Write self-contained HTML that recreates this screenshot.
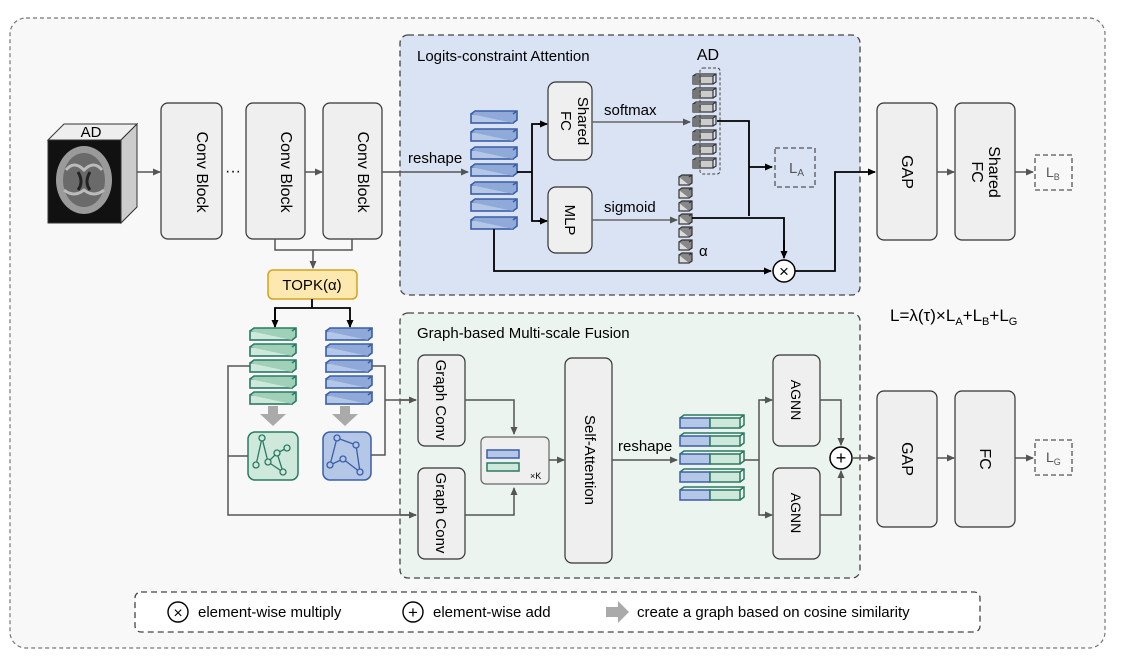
<!DOCTYPE html>
<html><head><meta charset="utf-8"><style>
body{margin:0;background:#fff}
svg{display:block;font-family:"Liberation Sans",sans-serif}
</style></head><body>
<svg width="1122" height="663" viewBox="0 0 1122 663" xmlns="http://www.w3.org/2000/svg">
<defs>
<marker id="a" markerWidth="8" markerHeight="8" refX="7" refY="4" orient="auto" markerUnits="userSpaceOnUse"><path d="M0,0.5 L8,4 L0,7.5z" fill="#555"/></marker>
<marker id="k" markerWidth="8" markerHeight="8" refX="7" refY="4" orient="auto" markerUnits="userSpaceOnUse"><path d="M0,0.5 L8,4 L0,7.5z" fill="#000"/></marker>
<g id="bb"><rect x="0" y="3" width="42" height="9" fill="#b4c7e7" stroke="#3a5ea8" stroke-width="1.6"/><path d="M0,3 L4,0 L46,0 L46,9 L42,12 M42,3 L46,0" fill="#8fa9d8" stroke="#3a5ea8" stroke-width="1.6"/></g>
<g id="gb"><rect x="0" y="3" width="42" height="9" fill="#cfe8dc" stroke="#2a7a62" stroke-width="1.6"/><path d="M0,3 L4,0 L46,0 L46,9 L42,12 M42,3 L46,0" fill="#9fd0b8" stroke="#2a7a62" stroke-width="1.6"/></g>
<g id="cb"><rect x="0" y="2" width="10" height="8" fill="#ddd" stroke="#333" stroke-width="1.2"/><path d="M0,2 L3,0 L13,0 L13,8 L10,10 M10,2 L13,0" fill="#888" stroke="#333" stroke-width="1.2"/></g>
<g id="cc"><rect x="0" y="2" width="20" height="8" fill="#ccc" stroke="#333" stroke-width="1.2"/><path d="M0,2 L3,0 L23,0 L23,8 L20,10 M20,2 L23,0" fill="none" stroke="#333" stroke-width="1.2"/><rect x="0" y="2" width="8" height="8" fill="#777"/></g>
<g id="cat"><rect x="0" y="3" width="30" height="10" fill="#b4c7e7" stroke="#3a5ea8" stroke-width="1.5"/><rect x="30" y="3" width="30" height="10" fill="#cfe8dc" stroke="#2a7a62" stroke-width="1.5"/><path d="M0,3 L4,0 L64,0 L64,10 L60,13 M60,3 L64,0" fill="none" stroke="#2a7a62" stroke-width="1.5"/></g>
</defs>
<rect x="10" y="18" width="1095" height="630" rx="16" fill="#f8f8f8" stroke="#777" stroke-dasharray="4,3" stroke-width="1.2"/>
<!-- brain cube -->
<path d="M48,140 L64,124 L137,124 L121,140z" fill="#eee" stroke="#333"/>
<path d="M121,140 L137,124 L137,207 L121,223z" fill="#ccc" stroke="#333"/>
<rect x="48" y="140" width="73" height="83" fill="#111" stroke="#333"/>
<ellipse cx="84" cy="180" rx="28" ry="34" fill="#9a9a9a"/>
<ellipse cx="84" cy="180" rx="21" ry="27" fill="#6a6a6a"/>
<path d="M66,170 q8,-10 18,0 q10,-10 18,0 M64,190 q10,8 20,0 q10,8 20,0" stroke="#bbb" stroke-width="3" fill="none"/>
<path d="M78,172 q6,10 0,18 M90,172 q-6,10 0,18" stroke="#222" stroke-width="3" fill="none"/>
<text x="91" y="137" font-size="15" text-anchor="middle">AD</text>
<line x1="137" y1="172" x2="160" y2="172" stroke="#555" stroke-width="1.5" marker-end="url(#a)"/>
<g fill="#efefef" stroke="#333" stroke-width="1.2">
<rect x="161" y="103" width="61" height="136" rx="7"/>
<rect x="246" y="103" width="59" height="136" rx="7"/>
<rect x="323" y="103" width="59" height="136" rx="7"/>
</g>
<g font-size="16" text-anchor="middle">
<text transform="translate(197,172) rotate(90)">Conv Block</text>
<text transform="translate(281,172) rotate(90)">Conv Block</text>
<text transform="translate(358,172) rotate(90)">Conv Block</text>
</g>
<text x="233" y="176" font-size="16" text-anchor="middle">···</text>
<line x1="305" y1="172" x2="322" y2="172" stroke="#555" stroke-width="1.5" marker-end="url(#a)"/>
<path d="M275,239 V250 H352 V239 M313,250 V268" fill="none" stroke="#555" stroke-width="1.5" marker-end="url(#a)"/>
<rect x="268" y="270" width="89" height="29" rx="5" fill="#fde9b0" stroke="#d4a21c" stroke-width="1.5"/>
<text x="312" y="290" font-size="15" text-anchor="middle">TOPK(α)</text>
<path d="M312,299 V308 H275 V327 M312,308 H350 V327" fill="none" stroke="#000" stroke-width="1.8" marker-end="url(#k)"/>
<path d="M275,308 V327" stroke="#000" stroke-width="1.8" marker-end="url(#k)"/>

<!-- blue box -->
<rect x="400" y="35" width="460" height="260" rx="8" fill="#dae3f3" stroke="#444" stroke-dasharray="6,4" stroke-width="1.3"/>
<text x="417" y="61" font-size="15">Logits-constraint Attention</text>
<line x1="382" y1="172" x2="468" y2="172" stroke="#555" stroke-width="1.5" marker-end="url(#a)"/>
<text x="408" y="163" font-size="15">reshape</text>
<use href="#bb" x="471" y="111"/><use href="#bb" x="471" y="129"/><use href="#bb" x="471" y="147"/><use href="#bb" x="471" y="164"/><use href="#bb" x="471" y="182"/><use href="#bb" x="471" y="199"/><use href="#bb" x="471" y="217"/>
<path d="M517,172 H532 V124 H546 M532,172 V221 H546" fill="none" stroke="#000" stroke-width="1.8"/>
<line x1="538" y1="124" x2="547" y2="124" stroke="#000" stroke-width="1.8" marker-end="url(#k)"/>
<line x1="538" y1="221" x2="547" y2="221" stroke="#000" stroke-width="1.8" marker-end="url(#k)"/>
<rect x="548" y="82" width="44" height="78" rx="8" fill="#efefef" stroke="#333" stroke-width="1.2"/>
<text transform="translate(573,121) rotate(90)" font-size="15" text-anchor="middle"><tspan x="0" y="-5">Shared</tspan><tspan x="0" y="12">FC</tspan></text>
<rect x="548" y="187" width="44" height="66" rx="8" fill="#efefef" stroke="#333" stroke-width="1.2"/>
<text transform="translate(570,220) rotate(90)" font-size="15" text-anchor="middle" y="5">MLP</text>
<line x1="592" y1="122" x2="690" y2="122" stroke="#666" stroke-width="1.5" marker-end="url(#a)"/>
<text x="604" y="115" font-size="15">softmax</text>
<line x1="592" y1="220" x2="677" y2="220" stroke="#666" stroke-width="1.5" marker-end="url(#a)"/>
<text x="604" y="212" font-size="15">sigmoid</text>
<text x="708" y="60" font-size="16" text-anchor="middle">AD</text>
<g><use href="#cc" x="693" y="74"/><use href="#cc" x="693" y="88"/><use href="#cc" x="693" y="102"/><use href="#cc" x="693" y="116"/><use href="#cc" x="693" y="130"/><use href="#cc" x="693" y="144"/><use href="#cc" x="693" y="158"/></g>
<rect x="700" y="68" width="20" height="106" rx="3" fill="none" stroke="#444" stroke-dasharray="3,2"/>
<g><use href="#cb" x="679" y="175"/><use href="#cb" x="679" y="188"/><use href="#cb" x="679" y="201"/><use href="#cb" x="679" y="214"/><use href="#cb" x="679" y="227"/><use href="#cb" x="679" y="240"/><use href="#cb" x="679" y="253"/></g>
<text x="699" y="256" font-size="15">α</text>
<path d="M717,121 H749 V216 M692,218 H784 V257" fill="none" stroke="#000" stroke-width="1.8"/>
<line x1="784" y1="240" x2="784" y2="258" stroke="#000" stroke-width="1.8" marker-end="url(#k)"/>
<line x1="749" y1="167" x2="772" y2="167" stroke="#000" stroke-width="1.8" marker-end="url(#k)"/>
<rect x="775" y="148" width="40" height="39" fill="none" stroke="#555" stroke-dasharray="5,3" stroke-width="1.3"/>
<text x="789" y="173" font-size="15" fill="#555">L<tspan font-size="10" dy="3">A</tspan></text>
<path d="M494,229 V271 H771" fill="none" stroke="#000" stroke-width="1.8" marker-end="url(#k)"/>
<circle cx="784" cy="271" r="11" fill="#fff" stroke="#000" stroke-width="1.5"/>
<text x="784" y="277" font-size="17" text-anchor="middle">×</text>
<path d="M795,271 H835 V172 H875" fill="none" stroke="#000" stroke-width="1.8" marker-end="url(#k)"/>

<!-- right top -->
<rect x="877" y="103" width="60" height="137" rx="7" fill="#efefef" stroke="#333" stroke-width="1.2"/>
<text transform="translate(902,172) rotate(90)" font-size="16" text-anchor="middle">GAP</text>
<line x1="937" y1="172" x2="954" y2="172" stroke="#555" stroke-width="1.5" marker-end="url(#a)"/>
<rect x="955" y="103" width="60" height="137" rx="7" fill="#efefef" stroke="#333" stroke-width="1.2"/>
<text transform="translate(985,172) rotate(90)" font-size="16" text-anchor="middle"><tspan x="0" y="-4">Shared</tspan><tspan x="0" y="13">FC</tspan></text>
<line x1="1015" y1="172" x2="1033" y2="172" stroke="#555" stroke-width="1.5" marker-end="url(#a)"/>
<rect x="1035" y="155" width="37" height="35" fill="none" stroke="#555" stroke-dasharray="5,3" stroke-width="1.3"/>
<text x="1046" y="177" font-size="14" fill="#555">L<tspan font-size="9" dy="3">B</tspan></text>
<text x="890" y="321" font-size="17">L=λ(τ)×L<tspan font-size="11" dy="4">A</tspan><tspan dy="-4">+L</tspan><tspan font-size="11" dy="4">B</tspan><tspan dy="-4">+L</tspan><tspan font-size="11" dy="4">G</tspan></text>

<!-- green box -->
<rect x="400" y="313" width="460" height="265" rx="8" fill="#ebf4ee" stroke="#444" stroke-dasharray="6,4" stroke-width="1.3"/>
<text x="417" y="338" font-size="15">Graph-based Multi-scale Fusion</text>
<use href="#gb" x="250" y="328"/><use href="#gb" x="250" y="344"/><use href="#gb" x="250" y="360"/><use href="#gb" x="250" y="376"/><use href="#gb" x="250" y="392"/>
<use href="#bb" x="326" y="328"/><use href="#bb" x="326" y="344"/><use href="#bb" x="326" y="360"/><use href="#bb" x="326" y="376"/><use href="#bb" x="326" y="392"/>
<path d="M268,406 h10 v8 h8 l-13,12 l-13,-12 h8z" fill="#aaa"/>
<path d="M340,406 h10 v8 h8 l-13,12 l-13,-12 h8z" fill="#aaa"/>
<rect x="248" y="432" width="50" height="48" rx="7" fill="#cfe8dc" stroke="#2a7a62" stroke-width="1.5"/>
<g stroke="#2a7a62" stroke-width="1.3" fill="#cfe8dc"><path d="M256,465 L262,438 L268,462 L277,453 L287,448 M268,462 L283,472 L277,453"/><circle cx="256" cy="465" r="3"/><circle cx="262" cy="438" r="3"/><circle cx="268" cy="462" r="3"/><circle cx="277" cy="453" r="3"/><circle cx="287" cy="448" r="3"/><circle cx="283" cy="472" r="3"/></g>
<rect x="323" y="432" width="48" height="48" rx="7" fill="#b4c7e7" stroke="#3a5ea8" stroke-width="1.5"/>
<g stroke="#3a5ea8" stroke-width="1.3" fill="#b4c7e7"><path d="M330,465 L337,438 L356,445 L360,472 L343,459 L330,465"/><circle cx="330" cy="465" r="3"/><circle cx="337" cy="438" r="3"/><circle cx="356" cy="445" r="3"/><circle cx="360" cy="472" r="3"/><circle cx="343" cy="459" r="3"/></g>
<path d="M250,366 H228 V515 H416 M228,456 H248" fill="none" stroke="#555" stroke-width="1.5"/>
<line x1="400" y1="515" x2="416" y2="515" stroke="#555" stroke-width="1.5" marker-end="url(#a)"/>
<path d="M372,366 H385 V455 H371 M385,400 H416" fill="none" stroke="#555" stroke-width="1.5"/>
<line x1="400" y1="400" x2="416" y2="400" stroke="#555" stroke-width="1.5" marker-end="url(#a)"/>
<rect x="418" y="355" width="47" height="91" rx="7" fill="#efefef" stroke="#333" stroke-width="1.2"/>
<text transform="translate(436,400) rotate(90)" font-size="15" text-anchor="middle">Graph Conv</text>
<rect x="418" y="468" width="47" height="91" rx="7" fill="#efefef" stroke="#333" stroke-width="1.2"/>
<text transform="translate(436,513) rotate(90)" font-size="15" text-anchor="middle">Graph Conv</text>
<path d="M465,400 H514 V434" fill="none" stroke="#555" stroke-width="1.5" marker-end="url(#a)"/>
<path d="M465,515 H514 V488" fill="none" stroke="#555" stroke-width="1.5" marker-end="url(#a)"/>
<rect x="481" y="437" width="68" height="47" rx="5" fill="#efefef" stroke="#666" stroke-width="1.2"/>
<rect x="487" y="450" width="32" height="8" fill="#b4c7e7" stroke="#3a5ea8" stroke-width="1.5"/><rect x="487" y="463" width="32" height="8" fill="#cfe8dc" stroke="#2a7a62" stroke-width="1.5"/>
<text x="530" y="479" font-size="9">×K</text>
<line x1="549" y1="460" x2="564" y2="460" stroke="#555" stroke-width="1.5" marker-end="url(#a)"/>
<rect x="565" y="358" width="47" height="205" rx="7" fill="#efefef" stroke="#333" stroke-width="1.2"/>
<text transform="translate(585,460) rotate(90)" font-size="15" text-anchor="middle">Self-Attention</text>
<line x1="612" y1="460" x2="677" y2="460" stroke="#555" stroke-width="1.5" marker-end="url(#a)"/>
<text x="618" y="451" font-size="15">reshape</text>
<use href="#cat" x="680" y="415"/><use href="#cat" x="680" y="433"/><use href="#cat" x="680" y="451"/><use href="#cat" x="680" y="469"/><use href="#cat" x="680" y="487"/>
<path d="M744,460 H759 V400 H771 M759,460 V515 H771" fill="none" stroke="#555" stroke-width="1.5"/>
<line x1="762" y1="400" x2="772" y2="400" stroke="#555" stroke-width="1.5" marker-end="url(#a)"/>
<line x1="762" y1="515" x2="772" y2="515" stroke="#555" stroke-width="1.5" marker-end="url(#a)"/>
<rect x="773" y="355" width="47" height="91" rx="7" fill="#efefef" stroke="#333" stroke-width="1.2"/>
<text transform="translate(791,400) rotate(90)" font-size="14" text-anchor="middle">AGNN</text>
<rect x="773" y="468" width="47" height="91" rx="7" fill="#efefef" stroke="#333" stroke-width="1.2"/>
<text transform="translate(791,513) rotate(90)" font-size="14" text-anchor="middle">AGNN</text>
<path d="M820,400 H841 V445" fill="none" stroke="#555" stroke-width="1.5" marker-end="url(#a)"/>
<path d="M820,515 H841 V471" fill="none" stroke="#555" stroke-width="1.5" marker-end="url(#a)"/>
<circle cx="841" cy="458" r="11" fill="#fff" stroke="#000" stroke-width="1.5"/>
<text x="841" y="464" font-size="18" text-anchor="middle">+</text>
<line x1="852" y1="458" x2="875" y2="458" stroke="#555" stroke-width="1.5" marker-end="url(#a)"/>
<rect x="877" y="391" width="60" height="136" rx="7" fill="#efefef" stroke="#333" stroke-width="1.2"/>
<text transform="translate(902,459) rotate(90)" font-size="16" text-anchor="middle">GAP</text>
<line x1="937" y1="458" x2="954" y2="458" stroke="#555" stroke-width="1.5" marker-end="url(#a)"/>
<rect x="955" y="391" width="60" height="136" rx="7" fill="#efefef" stroke="#333" stroke-width="1.2"/>
<text transform="translate(980,459) rotate(90)" font-size="16" text-anchor="middle">FC</text>
<line x1="1015" y1="458" x2="1033" y2="458" stroke="#555" stroke-width="1.5" marker-end="url(#a)"/>
<rect x="1035" y="440" width="37" height="35" fill="none" stroke="#555" stroke-dasharray="5,3" stroke-width="1.3"/>
<text x="1046" y="462" font-size="14" fill="#555">L<tspan font-size="9" dy="3">G</tspan></text>

<!-- legend -->
<rect x="135" y="592" width="845" height="40" rx="6" fill="#fff" stroke="#444" stroke-dasharray="6,4" stroke-width="1.3"/>
<circle cx="178" cy="612" r="10" fill="#fff" stroke="#000" stroke-width="1.4"/>
<text x="178" y="618" font-size="16" text-anchor="middle">×</text>
<text x="198" y="617" font-size="15">element-wise multiply</text>
<circle cx="413" cy="612" r="10" fill="#fff" stroke="#000" stroke-width="1.4"/>
<text x="413" y="618" font-size="17" text-anchor="middle">+</text>
<text x="433" y="617" font-size="15">element-wise add</text>
<path d="M606,607 h12 v-6 l11,11 l-11,11 v-6 h-12z" fill="#aaa"/>
<text x="637" y="617" font-size="15">create a graph based on cosine similarity</text>
</svg>
</body></html>
